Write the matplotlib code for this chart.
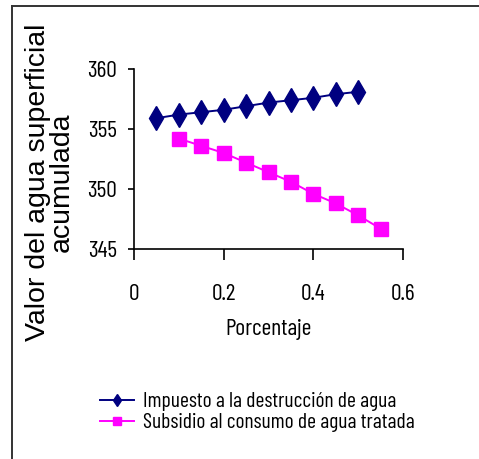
import matplotlib
matplotlib.use("Agg")
import matplotlib.pyplot as plt
from matplotlib.lines import Line2D

# Data
porcentaje_impuesto = [0.05, 0.10, 0.15, 0.20, 0.25, 0.30, 0.35, 0.40, 0.45, 0.50]
valor_impuesto = [355.9, 356.2, 356.4, 356.6, 356.9, 357.2, 357.4, 357.6, 357.9, 358.1]

porcentaje_subsidio = [0.10, 0.15, 0.20, 0.25, 0.30, 0.35, 0.40, 0.45, 0.50, 0.55]
valor_subsidio = [354.2, 353.6, 353.0, 352.2, 351.4, 350.6, 349.6, 348.8, 347.8, 346.7]

x_ticks = [0, 0.2, 0.4, 0.6]
x_ticklabels = ["0", "0.2", "0.4", "0.6"]
y_ticks = [345, 350, 355, 360]

label_impuesto = "Impuesto a la destrucción de agua"
label_subsidio = "Subsidio al consumo de agua tratada"

NARROW = ["Barlow Condensed", "Roboto Condensed", "Liberation Sans", "DejaVu Sans"]
REGULAR = ["Liberation Sans", "DejaVu Sans"]

W, H = 479, 459
fig = plt.figure(figsize=(W / 100, H / 100), dpi=100)
ax = fig.add_axes([134 / W, 1 - 249 / H, (403 - 134) / W, (249 - 69) / H])

ax.plot(porcentaje_impuesto, valor_impuesto, color="#000080", lw=1.4,
        marker="d", markersize=12, label=label_impuesto)
ax.plot(porcentaje_subsidio, valor_subsidio, color="#FF00FF", lw=1.4,
        marker="s", markersize=9.5, label=label_subsidio)

ax.set_xlim(0, 0.6)
ax.set_ylim(345, 360)
ax.set_xticks(x_ticks)
ax.set_xticklabels(x_ticklabels)
ax.set_yticks(y_ticks)

for s in ("top", "right"):
    ax.spines[s].set_visible(False)
for s in ("left", "bottom"):
    ax.spines[s].set_linewidth(1.2)
    ax.spines[s].set_color("black")

ax.tick_params(axis="x", direction="out", length=8, width=1.2, pad=17)
ax.tick_params(axis="y", direction="out", length=4.5, width=1.2, pad=8)
for lbl in ax.get_xticklabels() + ax.get_yticklabels():
    lbl.set_family(NARROW)
    lbl.set_fontsize(17)

ax.set_xlabel("Porcentaje", family=NARROW, fontsize=17, labelpad=10)

fig.text(50 / W, 1 - 182 / H, "Valor del agua superficial\nacumulada",
         rotation=90, ha="center", va="center", multialignment="center",
         family=REGULAR, fontsize=20.5, linespacing=0.88)

leg = fig.legend(loc="upper left", bbox_to_anchor=(100 / W, 1 - 392 / H),
                 frameon=False, borderpad=0, borderaxespad=0,
                 handlelength=1.6, handletextpad=0.4, labelspacing=0.1,
                 markerscale=0.55, prop={"family": NARROW, "size": 15.5})

# outer frame (only top and left edges visible)
fig.add_artist(Line2D([12 / W, 1], [1 - 6 / H, 1 - 6 / H], color="#333333", lw=1.4))
fig.add_artist(Line2D([12 / W, 12 / W], [0, 1 - 6 / H], color="#333333", lw=1.4))

fig.savefig("out.png", dpi=100)
